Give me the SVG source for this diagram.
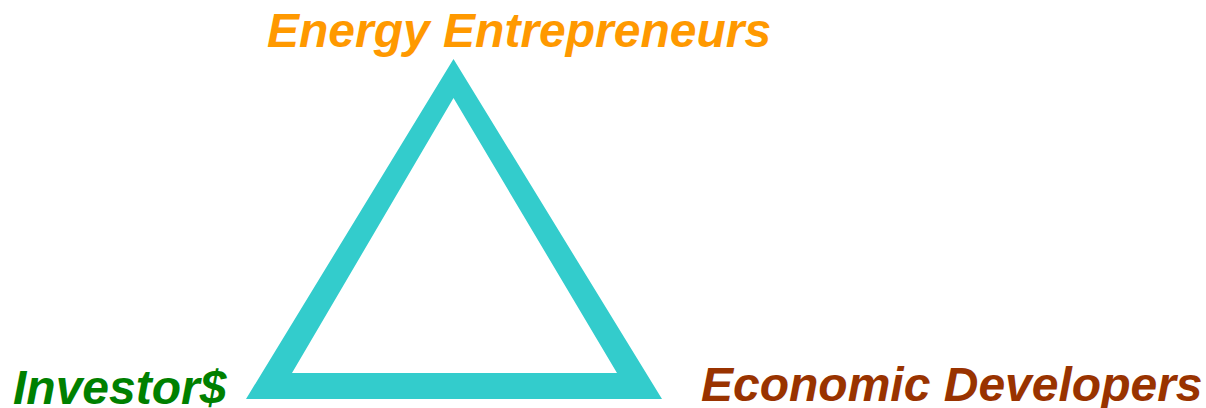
<svg xmlns="http://www.w3.org/2000/svg" width="1206" height="408" viewBox="0 0 1206 408">
<style>
.lbl{font-family:"Liberation Sans",Arial,sans-serif;font-weight:bold;font-style:italic}
</style>
<rect width="1206" height="408" fill="#fff"/>
<g id="triangle">
<path d="M453.5,59 L246,399 L662,399 Z M453.5,98 L292,373 L617,373 Z" fill="#33CCCC" fill-rule="evenodd"/>
</g>
<g id="energy"><text class="lbl" x="267" y="47" font-size="48" fill="#FF9900">Energy Entrepreneurs</text></g>
<g id="investors"><text class="lbl" x="13" y="404" font-size="48" fill="#008000">Investor$</text></g>
<g id="economic"><text class="lbl" x="701" y="401" font-size="48" fill="#993300">Economic Developers</text></g>
</svg>
